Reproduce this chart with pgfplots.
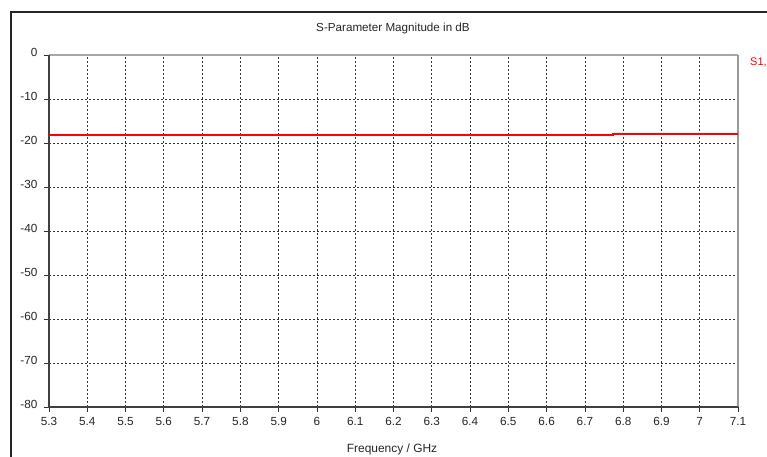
\documentclass[border=0pt]{standalone}
\usepackage{fontspec}
\setmainfont{Liberation Sans}
\usepackage{pgfplots}
\pgfplotsset{compat=1.18}

\begin{document}
\begin{tikzpicture}[x=1bp,y=-1bp]
  % page size; anything beyond it is cut off
  \path[use as bounding box] (0,0) rectangle (767,457);
  % outer frame of the chart window
  \draw[black!85, line width=1.1bp] (11,480) -- (11,12) -- (790,12);

  \begin{axis}[
    at={(49bp,-407bp)}, anchor=south west,
    scale only axis, width=689bp, height=352bp,
    xmin=5.3, xmax=7.1, ymin=-80, ymax=0,
    xtick={5.3,5.4,5.5,5.6,5.7,5.8,5.9,6,6.1,6.2,6.3,6.4,6.5,6.6,6.7,6.8,6.9,7,7.1},
    ytick={-80,-70,-60,-50,-40,-30,-20,-10,0},
    xtick pos=bottom, ytick pos=left,
    tick align=outside, major tick length=5bp,
    tick style={black!80, line width=0.8bp},
    grid=major,
    major grid style={black!80, line width=0.7bp, dash pattern=on 2bp off 2bp},
    axis line style={draw=none},
    /pgf/number format/assume math mode=true,
    /pgf/number format/fixed,
    /pgf/number format/precision=1,
    ticklabel style={font=\fontsize{11.8}{13}\selectfont, text=black!85},
    xticklabel style={yshift=-1.5bp},
    yticklabel style={yshift=3bp, xshift=-3bp},
    clip=false,
  ]
    % axis frame: dark left and bottom, light top and right
    \draw[gray!70, line width=1.2bp] (rel axis cs:0,1) -- (rel axis cs:1,1);
    \draw[gray!80, line width=1.8bp] (rel axis cs:1,1) -- (rel axis cs:1,0);
    \draw[black!75, line width=1.2bp] (rel axis cs:0,1) -- (rel axis cs:0,0) -- (rel axis cs:1,0);

    % S1,1 magnitude
    \addplot[red, line width=1.6bp, const plot] coordinates {
      (5.3,-18.2) (5.6,-18.2) (6.0,-18.2) (6.4,-18.2) (6.773,-18.0) (7.1,-18.0)
    };
  \end{axis}

  \node[font=\fontsize{11.7}{13}\selectfont, text=black!85] at (393,28) {S-Parameter Magnitude in dB};
  \node[font=\fontsize{12}{14}\selectfont, text=black!85] at (392,449) {Frequency / GHz};
  \node[font=\fontsize{11}{13}\selectfont, text=red, anchor=west, inner sep=0pt] at (750,62) {S1,1};
\end{tikzpicture}
\end{document}
